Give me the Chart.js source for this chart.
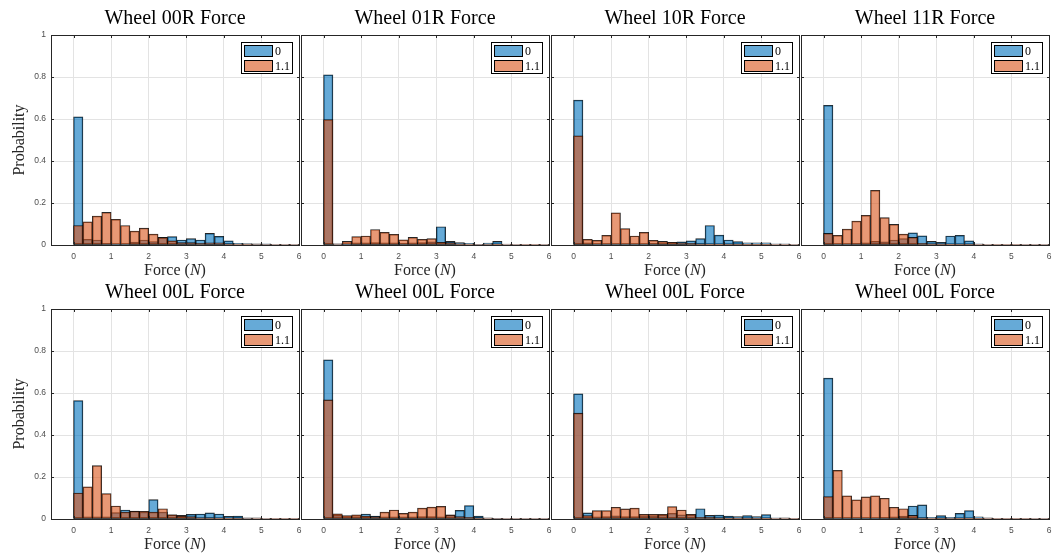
<!DOCTYPE html>
<html lang="en">
<head>
    <meta charset="UTF-8">
    <title>Wheel Force Histograms</title>
    <script src="https://cdn.jsdelivr.net/npm/chart.js@4.4.1/dist/chart.umd.min.js"></script>
    <style>
        body { margin: 0; background: #fff; }
        #wrap { position: relative; width: 1062px; height: 555px; overflow: hidden; }
        #wrap canvas { position: absolute; }
    </style>
</head>
<body>
    <div id="wrap"></div>

    <script>
        // bins are 0.25 N wide, 0..6 N
        const binCenters = [0.125, 0.375, 0.625, 0.875, 1.125, 1.375, 1.625, 1.875,
                            2.125, 2.375, 2.625, 2.875, 3.125, 3.375, 3.625, 3.875,
                            4.125, 4.375, 4.625, 4.875, 5.125, 5.375, 5.625, 5.875];
        const xTicks = [0, 1, 2, 3, 4, 5, 6];
        const yTicks = [0, 0.2, 0.4, 0.6, 0.8, 1];
        const seriesNames = ['0', '1.1'];
        const panelTitles = ['Wheel 00R Force', 'Wheel 01R Force', 'Wheel 10R Force', 'Wheel 11R Force',
                             'Wheel 00L Force', 'Wheel 00L Force', 'Wheel 00L Force', 'Wheel 00L Force'];

        // top row
        const p1_f0  = [0.61, 0.027, 0.024, 0.008, 0.003, 0.005, 0.014, 0.024, 0.016, 0.036, 0.040, 0.024, 0.030, 0.024, 0.055, 0.041, 0.020, 0.008, 0.007, 0.005, 0.006, 0.003, 0.003, 0.003];
        const p1_f11 = [0.093, 0.11, 0.138, 0.155, 0.122, 0.093, 0.066, 0.08, 0.052, 0.035, 0.02, 0.011, 0.011, 0.008, 0.01, 0.01, 0.005, 0.003, 0.003, 0.002, 0.002, 0.001, 0.001, 0.001];
        const p2_f0  = [0.81, 0.006, 0.003, 0.01, 0.01, 0.012, 0.01, 0.01, 0.008, 0.01, 0.012, 0.015, 0.087, 0.017, 0.011, 0.008, 0.002, 0.009, 0.017, 0.004, 0.003, 0.002, 0.002, 0.003];
        const p2_f11 = [0.597, 0.006, 0.017, 0.04, 0.043, 0.074, 0.06, 0.051, 0.025, 0.036, 0.027, 0.03, 0.013, 0.011, 0.006, 0.003, 0.002, 0.002, 0.001, 0.001, 0.001, 0.001, 0.001, 0.001];
        const p3_f0  = [0.69, 0.01, 0.005, 0.005, 0.005, 0.005, 0.005, 0.005, 0.008, 0.01, 0.011, 0.015, 0.02, 0.03, 0.093, 0.047, 0.024, 0.016, 0.01, 0.01, 0.01, 0.006, 0.006, 0.003];
        const p3_f11 = [0.52, 0.027, 0.022, 0.046, 0.153, 0.078, 0.043, 0.06, 0.022, 0.017, 0.013, 0.01, 0.008, 0.005, 0.004, 0.003, 0.002, 0.002, 0.001, 0.001, 0.001, 0.001, 0.001, 0.001];
        const p4_f0  = [0.665, 0.005, 0.005, 0.008, 0.01, 0.017, 0.015, 0.024, 0.03, 0.058, 0.044, 0.017, 0.013, 0.043, 0.046, 0.02, 0.006, 0.003, 0.002, 0.002, 0.002, 0.001, 0.001, 0.001];
        const p4_f11 = [0.055, 0.046, 0.076, 0.114, 0.141, 0.26, 0.13, 0.098, 0.052, 0.036, 0.008, 0.006, 0.006, 0.003, 0.002, 0.002, 0.001, 0.001, 0.001, 0.001, 0.001, 0.001, 0.001, 0.001];
        // bottom row
        const p5_f0  = [0.564, 0.01, 0.01, 0.01, 0.03, 0.043, 0.038, 0.033, 0.092, 0.033, 0.02, 0.017, 0.022, 0.024, 0.029, 0.024, 0.013, 0.014, 0.005, 0.005, 0.003, 0.002, 0.002, 0.002];
        const p5_f11 = [0.124, 0.153, 0.254, 0.121, 0.062, 0.033, 0.037, 0.037, 0.033, 0.049, 0.02, 0.014, 0.011, 0.006, 0.005, 0.004, 0.003, 0.002, 0.002, 0.001, 0.001, 0.001, 0.001, 0.001];
        const p6_f0  = [0.758, 0.017, 0.012, 0.012, 0.024, 0.014, 0.01, 0.01, 0.01, 0.01, 0.012, 0.012, 0.01, 0.02, 0.041, 0.064, 0.014, 0.005, 0.002, 0.001, 0.001, 0.001, 0.001, 0.001];
        const p6_f11 = [0.567, 0.025, 0.016, 0.02, 0.014, 0.011, 0.033, 0.043, 0.027, 0.033, 0.052, 0.057, 0.06, 0.019, 0.011, 0.008, 0.005, 0.003, 0.002, 0.001, 0.001, 0.001, 0.001, 0.001];
        const p7_f0  = [0.596, 0.029, 0.01, 0.012, 0.015, 0.012, 0.012, 0.015, 0.015, 0.018, 0.027, 0.02, 0.02, 0.049, 0.017, 0.019, 0.014, 0.011, 0.016, 0.011, 0.021, 0.006, 0.005, 0.002];
        const p7_f11 = [0.504, 0.016, 0.04, 0.04, 0.056, 0.048, 0.052, 0.022, 0.022, 0.022, 0.059, 0.043, 0.022, 0.008, 0.008, 0.005, 0.004, 0.003, 0.002, 0.002, 0.001, 0.001, 0.001, 0.001];
        const p8_f0  = [0.671, 0.005, 0.005, 0.005, 0.005, 0.006, 0.008, 0.01, 0.014, 0.062, 0.067, 0.008, 0.016, 0.008, 0.027, 0.04, 0.01, 0.005, 0.002, 0.002, 0.002, 0.002, 0.001, 0.001];
        const p8_f11 = [0.107, 0.232, 0.11, 0.091, 0.105, 0.11, 0.099, 0.056, 0.049, 0.017, 0.005, 0.003, 0.002, 0.002, 0.001, 0.001, 0.001, 0.001, 0.001, 0.001, 0.001, 0.001, 0.001, 0.001];

        const panelData = [[p1_f0, p1_f11], [p2_f0, p2_f11], [p3_f0, p3_f11], [p4_f0, p4_f11],
                           [p5_f0, p5_f11], [p6_f0, p6_f11], [p7_f0, p7_f11], [p8_f0, p8_f11]];

        const fills = ['rgba(0,114,189,0.6)', 'rgba(217,83,25,0.6)'];
        const axisColor = '#262626';
        const serif = '"Liberation Serif", "DejaVu Serif", serif';

        // plot areas (pixels)
        const colLeft = [51, 301, 551, 801];
        const rowTop = [35, 309];
        const plotW = 248, plotH = 210;
        const padL = 51, padT = 35, padR = 12, padB = 36;

        // box, inside ticks, legend, title and axis labels
        const decor = {
            id: 'decor',
            afterDraw(chart, args, opts) {
                const { ctx, chartArea: a, scales: { x, y } } = chart;
                ctx.save();
                ctx.strokeStyle = axisColor;
                ctx.lineWidth = 1;
                ctx.beginPath();
                ctx.moveTo(a.left, a.top + 0.5);
                ctx.lineTo(a.right + 1, a.top + 0.5);
                ctx.moveTo(a.right + 0.5, a.top);
                ctx.lineTo(a.right + 0.5, a.bottom + 1);
                xTicks.forEach(v => {
                    const px = Math.round(x.getPixelForValue(v)) + 0.5;
                    ctx.moveTo(px, a.bottom); ctx.lineTo(px, a.bottom - 3);
                    ctx.moveTo(px, a.top); ctx.lineTo(px, a.top + 3);
                });
                yTicks.forEach(v => {
                    const py = Math.round(y.getPixelForValue(v)) + 0.5;
                    ctx.moveTo(a.left, py); ctx.lineTo(a.left + 3, py);
                    ctx.moveTo(a.right + 1, py); ctx.lineTo(a.right - 2, py);
                });
                ctx.stroke();

                // legend
                const bw = 51, bh = 31;
                const bx = a.right - 7 - bw, by = a.top + 7;
                ctx.fillStyle = '#fff';
                ctx.fillRect(bx, by, bw, bh);
                ctx.strokeStyle = '#000';
                ctx.strokeRect(bx + 0.5, by + 0.5, bw, bh);
                ctx.font = '12px ' + serif;
                ctx.textBaseline = 'middle';
                ctx.textAlign = 'left';
                seriesNames.forEach((name, i) => {
                    const sy = by + 3 + i * 15;
                    ctx.fillStyle = '#fff';
                    ctx.fillRect(bx + 3, sy, 28, 11);
                    ctx.fillStyle = fills[i];
                    ctx.fillRect(bx + 3, sy, 28, 11);
                    ctx.strokeStyle = '#000';
                    ctx.strokeRect(bx + 3.5, sy + 0.5, 28, 11);
                    ctx.fillStyle = '#000';
                    ctx.fillText(name, bx + 34, sy + 6.5);
                });

                // title
                const cx = (a.left + a.right) / 2;
                ctx.fillStyle = '#000';
                ctx.textAlign = 'center';
                ctx.textBaseline = 'alphabetic';
                ctx.font = '20px ' + serif;
                ctx.fillText(opts.title, cx, a.top - 11);

                // x label with italic N
                const partA = 'Force (', partN = 'N', partB = ')';
                const fReg = '16px ' + serif, fIt = 'italic 16px ' + serif;
                ctx.font = fReg; const wA = ctx.measureText(partA).width, wB = ctx.measureText(partB).width;
                ctx.font = fIt; const wN = ctx.measureText(partN).width;
                let tx = cx - (wA + wN + wB) / 2;
                const ty = a.bottom + 26;
                ctx.textAlign = 'left';
                ctx.textBaseline = 'middle';
                ctx.fillStyle = '#262626';
                ctx.font = fReg; ctx.fillText(partA, tx, ty); tx += wA;
                ctx.font = fIt; ctx.fillText(partN, tx, ty); tx += wN;
                ctx.font = fReg; ctx.fillText(partB, tx, ty);

                if (opts.yLabel) {
                    ctx.save();
                    ctx.translate(20, (a.top + a.bottom) / 2);
                    ctx.rotate(-Math.PI / 2);
                    ctx.textAlign = 'center';
                    ctx.font = '16px ' + serif;
                    ctx.fillText('Probability', 0, 0);
                    ctx.restore();
                }
                ctx.restore();
            }
        };

        const wrap = document.getElementById('wrap');

        panelData.forEach((series, i) => {
            const col = i % 4, row = Math.floor(i / 4);
            const canvas = document.createElement('canvas');
            canvas.width = padL + plotW + padR;
            canvas.height = padT + plotH + padB;
            canvas.style.left = (colLeft[col] - padL) + 'px';
            canvas.style.top = (rowTop[row] - padT) + 'px';
            wrap.appendChild(canvas);

            new Chart(canvas, {
                type: 'bar',
                data: {
                    labels: binCenters,
                    datasets: [
                        { label: seriesNames[0], data: series[0], backgroundColor: fills[0], order: 1 },
                        { label: seriesNames[1], data: series[1], backgroundColor: fills[1], order: 0 }
                    ]
                },
                options: {
                    responsive: false,
                    animation: false,
                    devicePixelRatio: 1,
                    layout: { padding: { top: padT, right: padR, left: 0, bottom: 0 } },
                    datasets: {
                        bar: {
                            grouped: false,
                            barPercentage: 1,
                            categoryPercentage: 1,
                            borderColor: 'rgba(0,0,0,0.85)',
                            borderWidth: 0.8,
                            borderSkipped: false
                        }
                    },
                    scales: {
                        x: {
                            type: 'linear',
                            offset: false,
                            min: -0.6,
                            max: 6,
                            afterBuildTicks: s => { s.ticks = xTicks.map(v => ({ value: v })); },
                            afterFit: s => { s.height = padB; s.paddingLeft = 0; s.paddingRight = 0; },
                            grid: { color: '#e3e3e3', drawTicks: false, offset: false },
                            border: { color: axisColor },
                            ticks: {
                                padding: 7,
                                maxRotation: 0,
                                color: '#4d4d4d',
                                font: { family: '"Liberation Sans", Arial, sans-serif', size: 8.5 }
                            }
                        },
                        y: {
                            min: 0,
                            max: 1,
                            afterBuildTicks: s => { s.ticks = yTicks.map(v => ({ value: v })); },
                            afterFit: s => { s.width = padL; s.paddingTop = 0; s.paddingBottom = 0; },
                            grid: { color: '#e3e3e3', drawTicks: false },
                            border: { color: axisColor },
                            ticks: {
                                display: col === 0,
                                padding: 5,
                                color: '#4d4d4d',
                                callback: v => String(Number(v.toFixed(2))),
                                font: { family: '"Liberation Sans", Arial, sans-serif', size: 8.5 }
                            }
                        }
                    },
                    plugins: {
                        legend: { display: false },
                        tooltip: { enabled: false },
                        decor: { title: panelTitles[i], yLabel: col === 0 }
                    }
                },
                plugins: [decor]
            });
        });
    </script>
</body>
</html>
